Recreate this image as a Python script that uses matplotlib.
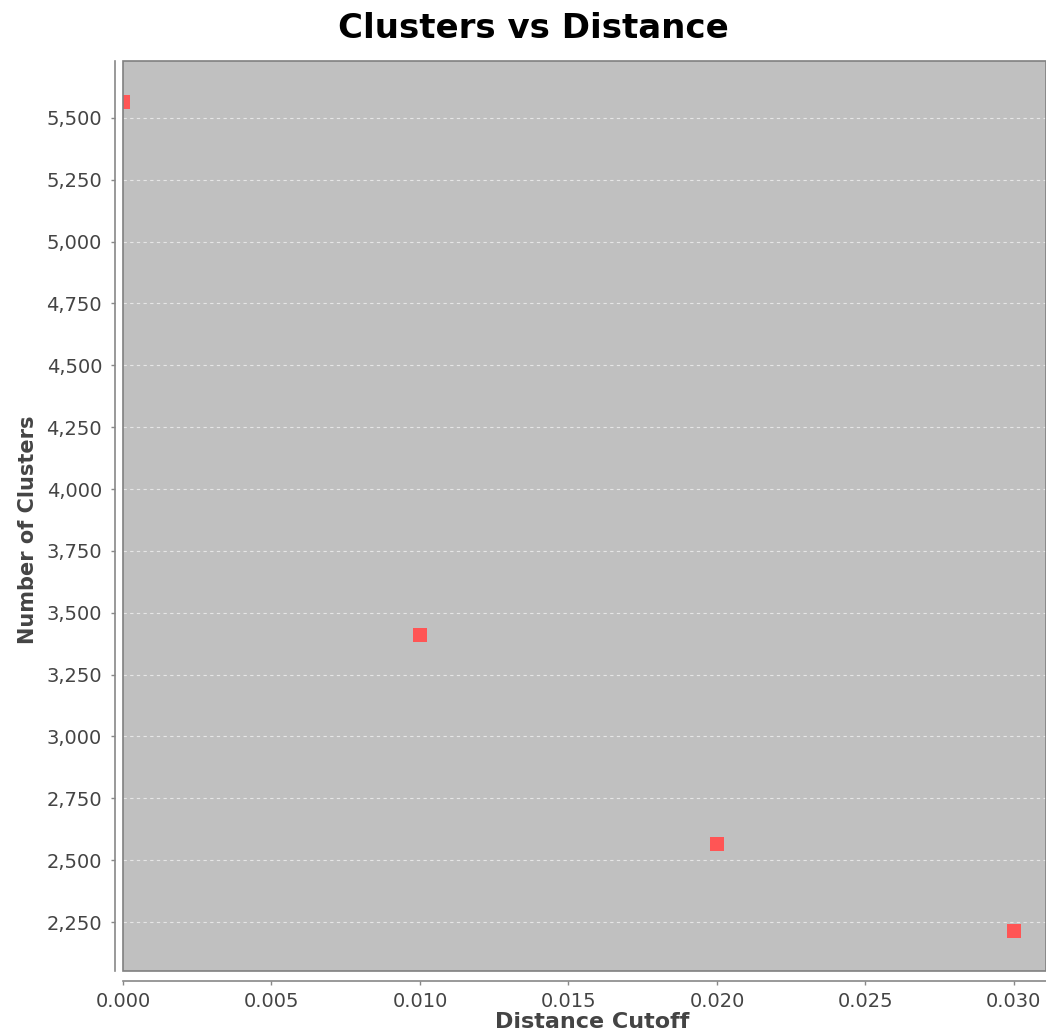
import matplotlib
matplotlib.use("Agg")
import matplotlib.pyplot as plt
from matplotlib.patches import Rectangle
from matplotlib.ticker import FuncFormatter, MultipleLocator

plt.rcParams["font.family"] = ["DejaVu Sans"]

# Number of clusters obtained at each distance cutoff
distance_cutoff = [0.000, 0.010, 0.020, 0.030]
num_clusters = [5565, 3410, 2565, 2214]

fig = plt.figure(figsize=(10.46, 10.36), dpi=100)
ax = fig.add_axes([0.1176, 0.0627, 0.8824, 0.8784])

ax.set_facecolor("#C0C0C0")
ax.scatter(distance_cutoff, num_clusters, marker="s", s=95, color="#FF5555",
           linewidths=0, zorder=3, clip_on=True)

ax.set_xlim(0.0, 0.03108)
ax.set_ylim(2052, 5730)

ax.xaxis.set_major_locator(MultipleLocator(0.005))
ax.yaxis.set_major_locator(MultipleLocator(250))
ax.xaxis.set_major_formatter(FuncFormatter(lambda v, p: f"{v:.3f}"))
ax.yaxis.set_major_formatter(FuncFormatter(lambda v, p: f"{int(round(v)):,}"))

ax.grid(axis="y", color="#F0F0F0", linestyle=(0, (3, 3)), linewidth=0.8, alpha=0.8)
ax.set_axisbelow(True)

# Axis lines sit a few pixels away from the plot area
for side in ("top", "right"):
    ax.spines[side].set_visible(False)
ax.spines["left"].set_position(("outward", 6))
ax.spines["bottom"].set_position(("outward", 7))
for side in ("left", "bottom"):
    ax.spines[side].set_color("#888888")
    ax.spines[side].set_linewidth(1.2)

# Plot area outline
ax.add_patch(Rectangle((0, 0), 1, 1, transform=ax.transAxes, fill=False,
                       edgecolor="#808080", linewidth=1.2, clip_on=False, zorder=4))

ax.tick_params(axis="both", direction="out", length=3, width=1, color="#888888",
               labelcolor="#444444", labelsize=14)
ax.tick_params(axis="y", pad=6)
ax.tick_params(axis="x", pad=5)

ax.set_xlabel("Distance Cutoff", fontsize=16, fontweight="bold", color="#444444")
ax.set_ylabel("Number of Clusters", fontsize=15, fontweight="bold", color="#444444")
ax.xaxis.set_label_coords(0.508, -0.0445)
ax.yaxis.set_label_coords(-0.092, 0.4846)
fig.text(0.51, 1 - 28 / 1036, "Clusters vs Distance", ha="center", va="center",
         fontsize=24.5, fontweight="bold", color="black")

fig.savefig("out.png", dpi=100, facecolor="white")
